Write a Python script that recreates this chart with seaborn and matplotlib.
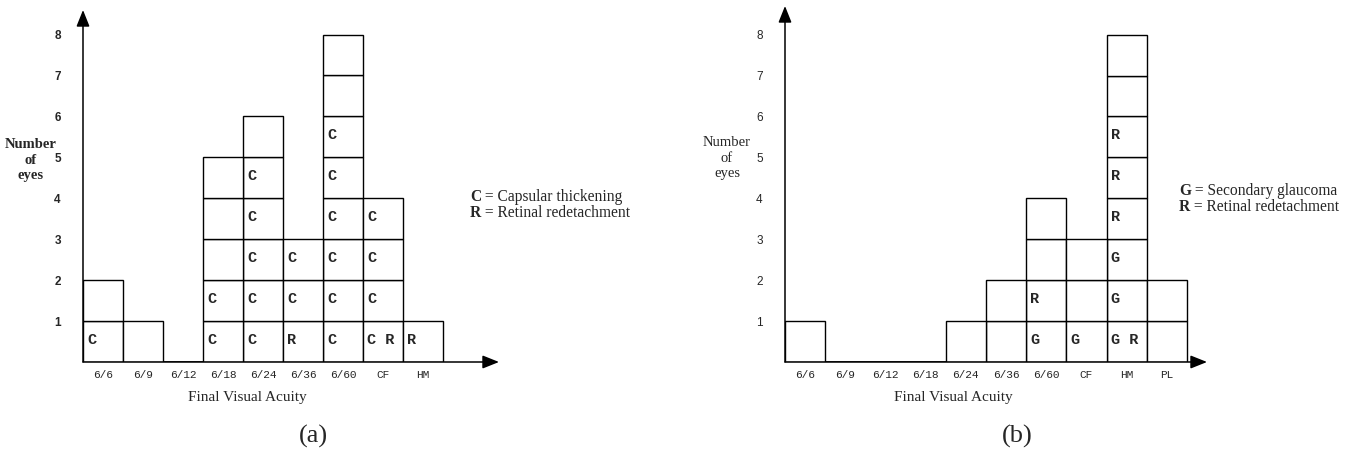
import numpy as np
import pandas as pd
import matplotlib
matplotlib.use("Agg")
import matplotlib.pyplot as plt
import seaborn as sns

# Panel (a): cataract / capsular thickening
cats_a = ["6/6", "6/9", "6/12", "6/18", "6/24", "6/36", "6/60", "CF", "HM"]
counts_a = [2, 1, 0, 5, 6, 3, 8, 4, 1]
marks_a = [
    ["C", ""],
    [""],
    [],
    ["C", "C", "", "", ""],
    ["C", "C", "C", "C", "C", ""],
    ["R", "C", "C"],
    ["C", "C", "C", "C", "C", "C", "", ""],
    ["C R", "C", "C", "C"],
    ["R"],
]
legend_a = [("C", " = Capsular thickening"), ("R", " = Retinal redetachment")]

# Panel (b): secondary glaucoma
cats_b = ["6/6", "6/9", "6/12", "6/18", "6/24", "6/36", "6/60", "CF", "HM", "PL"]
counts_b = [1, 0, 0, 0, 1, 2, 4, 3, 8, 2]
marks_b = [
    [""],
    [],
    [],
    [],
    [""],
    ["", ""],
    ["G", "R", "", ""],
    ["G", "", ""],
    ["G R", "G", "G", "R", "R", "R", "", ""],
    ["", ""],
]
legend_b = [("G", " = Secondary glaucoma"), ("R", " = Retinal redetachment")]

yticks = [1, 2, 3, 4, 5, 6, 7, 8]

sns.set_style("white")
plt.rcParams["font.family"] = ["Liberation Serif", "DejaVu Serif"]

W, H = 1350, 451
fig = plt.figure(figsize=(W / 100, H / 100), dpi=100)


def draw_panel(ax, cats, counts, marks, xmax, ymax, bold_axis):
    # one row per stacked cell so each box is its own rectangle
    rows = []
    for i, c in enumerate(counts):
        for lev in range(1, c + 1):
            rows.append({"pos": i, "level": lev})
    cells = pd.DataFrame(rows)
    levels = sorted(cells["level"].unique())
    sns.histplot(data=cells, x="pos", hue="level", multiple="stack", discrete=True,
                 shrink=1, palette=["white"] * len(levels), alpha=1,
                 edgecolor="black", linewidth=1.0, legend=False, ax=ax)

    for i, col in enumerate(marks):
        for lev, m in enumerate(col):
            if m:
                ax.text(i - 0.5 + 0.1, lev + 0.54, m, ha="left", va="center",
                        fontfamily="Liberation Mono", fontweight="bold", fontsize=11)

    ax.set_xlim(-0.5, xmax)
    ax.set_ylim(0, ymax)
    for s in ax.spines.values():
        s.set_visible(False)
    ax.set_xlabel("")
    ax.set_ylabel("")
    ax.set_xticks(range(len(cats)))
    ax.set_xticklabels(cats, fontfamily="Liberation Mono", fontsize=8)
    ax.set_yticks(yticks)
    ax.set_yticklabels([str(t) for t in yticks], fontfamily="Liberation Sans",
                       fontsize=8.5, fontweight="bold" if bold_axis else "normal")
    ax.tick_params(axis="x", length=0, pad=6)
    ax.tick_params(axis="y", length=0, pad=16)
    ax.grid(False)

    arrow = dict(arrowstyle="-|>,head_length=1.0,head_width=0.4", color="black",
                 lw=1.1, shrinkA=0, shrinkB=0)
    ax.annotate("", xy=(-0.5, ymax), xytext=(-0.5, 0), arrowprops=arrow,
                annotation_clip=False)
    ax.annotate("", xy=(xmax, 0), xytext=(-0.5, 0), arrowprops=arrow,
                annotation_clip=False)


def fig_text(x, y, s, **kw):
    return fig.text(x / W, 1 - y / H, s, **kw)


def legend(x, y0, items):
    for k, (letter, rest) in enumerate(items):
        t = fig_text(x, y0 + k * 16, letter, ha="left", va="center",
                     fontsize=11.2, fontweight="bold")
        plt.annotate(rest, xy=(1, 0), xycoords=t, ha="left", va="bottom",
                     fontsize=11.2)


ax_a = fig.add_axes([83 / W, (H - 362) / H, 416 / W, 352 / H])
draw_panel(ax_a, cats_a, counts_a, marks_a, 9.9, 8.6, True)

ax_b = fig.add_axes([785 / W, (H - 362) / H, 422 / W, 356 / H])
draw_panel(ax_b, cats_b, counts_b, marks_b, 10.0, 8.7, False)

# axis titles
fig_text(31, 160, "Number\nof\neyes", ha="center", va="center", fontsize=10.5,
         fontweight="bold", linespacing=1.2)
fig_text(727, 158, "Number\nof\neyes", ha="center", va="center", fontsize=10.5,
         linespacing=1.2)
fig_text(247, 398, "Final Visual Acuity", ha="center", va="center", fontsize=11)
fig_text(953, 397, "Final Visual Acuity", ha="center", va="center", fontsize=11)
fig_text(313, 436, "(a)", ha="center", va="center", fontsize=19)
fig_text(1017, 436, "(b)", ha="center", va="center", fontsize=19)

legend(470, 197, legend_a)
legend(1179, 191, legend_b)

fig.savefig("out.png", dpi=100)
